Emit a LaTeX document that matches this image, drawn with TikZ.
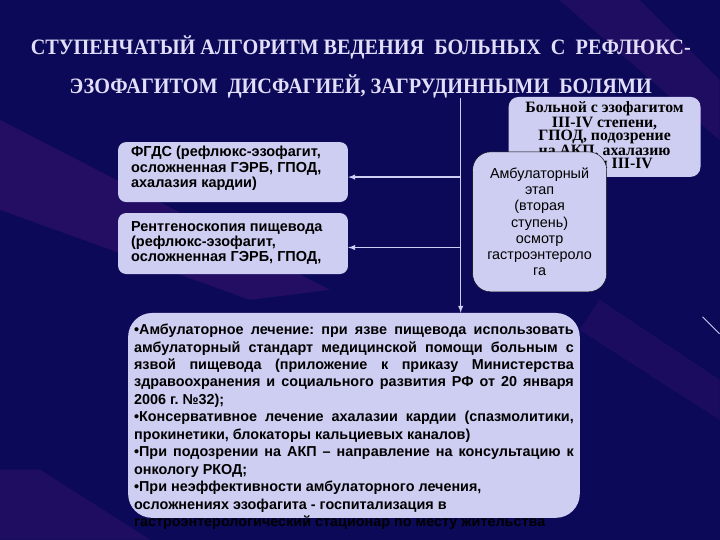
\documentclass[tikz,border=0pt]{standalone}
\usepackage{fontspec}
\setmainfont{Liberation Sans}
\newfontfamily\titlefont{Liberation Serif}
\usetikzlibrary{calc}
\frenchspacing
\definecolor{navy}{RGB}{12,10,88}
\definecolor{lav}{RGB}{206,206,242}
\definecolor{titlecol}{RGB}{226,222,250}
\definecolor{streak}{RGB}{90,24,130}
\newcommand{\boxfont}{\fontsize{14.5}{15.5}\selectfont}
\tikzset{panel/.style={fill=lav,rounded corners=#1,inner sep=0pt},panel/.default=8pt}
\tikzset{conn/.style={draw=lav,line width=1.4pt,-latex}}
\tikzset{heading/.style={text=titlecol,inner sep=0pt,font=\titlefont\bfseries\fontsize{22}{26}\selectfont}}
\tikzset{boxtext/.style={text=black,inner sep=0pt,align=left,font=\boxfont\bfseries}}

\begin{document}
\begin{tikzpicture}[x=1pt,y=-1pt]
	% background
	\fill[navy] (0,0) rectangle (720,540);
	\fill[streak,opacity=0.3] (0,120) -- (0,210) -- (250,300) -- (330,290) -- cycle;
	\fill[streak,opacity=0.25] (0,470) -- (0,540) -- (150,540) -- (40,470) -- cycle;
	\fill[streak,opacity=0.25] (560,0) -- (640,0) -- (720,80) -- (720,140) -- cycle;
	\fill[streak,opacity=0.2] (600,300) -- (720,380) -- (720,420) -- (580,330) -- cycle;
	\draw[lav,line width=1pt] (703,317) -- (720,334);
	\useasboundingbox (0,0) rectangle (720,540);

	% title
	\node [heading] (title1) at (361,48) {\scalebox{0.92}[1]{СТУПЕНЧАТЫЙ АЛГОРИТМ ВЕДЕНИЯ\ \ БОЛЬНЫХ\ \ С\ \ РЕФЛЮКС-}};
	\node [heading] (title2) at (361,87) {\scalebox{0.92}[1]{ЭЗОФАГИТОМ\ \ ДИСФАГИЕЙ, ЗАГРУДИННЫМИ\ \ БОЛЯМИ}};

	% patient and stage
	\node [panel=10pt,minimum width=192pt,minimum height=80pt,align=center,
		font=\titlefont\bfseries\fontsize{15.8}{13.2}\selectfont] (patient) at (605,137)
		{Больной с эзофагитом\\III-IV степени,\\ГПОД, подозрение\\на АКП, ахалазию\\кардии III-IV};
	\node [panel=18pt,draw=black,thin,minimum width=134pt,minimum height=140pt,align=center,
		font=\fontsize{14.4}{16.3}\selectfont] (stage) at (540,222)
		{Амбулаторный\\этап\\(вторая\\ступень)\\осмотр\\гастроэнтероло\\га};

	% diagnostics
	\node [panel,minimum width=230pt,minimum height=60pt,anchor=north west] (fgds) at (118,142) {};
	\node [boxtext,anchor=north west] (fgdstxt) at (131,146) {ФГДС (рефлюкс-эзофагит,\\осложненная ГЭРБ, ГПОД,\\ахалазия кардии)};
	\node [panel,minimum width=230pt,minimum height=61pt,anchor=north west] (xray) at (118,213) {};
	\node [boxtext,anchor=north west] (xraytxt) at (131,221) {Рентгеноскопия пищевода\\(рефлюкс-эзофагит,\\осложненная ГЭРБ, ГПОД,};

	% treatment
	\node [panel=24pt,minimum width=452pt,minimum height=205pt,anchor=north west] (treat) at (128,313) {};
	\node [boxtext,anchor=north west,text width=440pt,align=justify,
		font=\fontsize{14.4}{17.5}\selectfont\bfseries] (treattxt) at (134,324)
		{•Амбулаторное лечение: при язве пищевода использовать\linebreak
		амбулаторный стандарт медицинской помощи больным с\linebreak
		язвой пищевода (приложение к приказу Министерства\linebreak
		здравоохранения и социального развития РФ от 20 января\linebreak
		2006 г. №32);\newline
		•Консервативное лечение ахалазии кардии (спазмолитики,\linebreak
		прокинетики, блокаторы кальциевых каналов)\newline
		•При подозрении на АКП – направление на консультацию к\linebreak
		онкологу РКОД;\newline
		•При неэффективности амбулаторного лечения,\newline
		осложнениях эзофагита - госпитализация в\newline
		гастроэнтерологический стационар по месту жительства};

	% connectors
	\coordinate (top) at (461,98);
	\coordinate (fgdsin) at ($(fgds.east)+(0,5)$);
	\coordinate (xrayin) at ($(xray.east)+(0,4)$);
	\draw [conn] (top) -- (top |- treat.north);
	\draw [conn] (top |- fgdsin) -- (fgdsin);
	\draw [conn] (top |- xrayin) -- (xrayin);
\end{tikzpicture}
\end{document}
